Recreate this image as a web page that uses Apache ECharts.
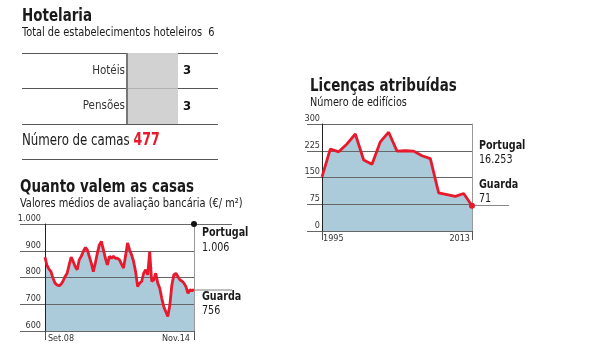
<!DOCTYPE html>
<html>
<head>
<meta charset="utf-8">
<script src="https://cdn.jsdelivr.net/npm/echarts@6/dist/echarts.min.js"></script>
<style>
    body { margin: 0; background: #fff; }
    #main { width: 610px; height: 352px; }
</style>
</head>
<body>
<div id="main"></div>
<script>
// hotelaria
var hotelCategorias = ['Hotéis', 'Pensões'];
var hotelValores = [3, 3];
var hotelTotal = 6;
var hotelCamas = 477;

// quanto valem as casas (€/m2), mensal Set.08 - Nov.14
var casasValores = [876, 845, 831, 822, 797, 779, 772, 769, 775, 787,
    804, 816, 847, 876, 860, 841, 829, 866, 879, 897,
    912, 904, 879, 854, 822, 854, 891, 922, 935, 904,
    872, 847, 879, 872, 879, 872, 872, 866,
    850, 835, 880, 929, 904, 885, 860, 822, 766, 779,
    785, 816, 829, 810, 897, 785, 791, 816, 779, 760,
    722, 691, 672, 654, 697, 772, 810, 816, 804, 791,
    787, 779, 766, 741, 754, 750, 756];
var casasEixoX = ['Set.08', 'Nov.14'];
var casasEixoY = ['600', '700', '800', '900', '1.000'];
var casasPortugal = 1000;

// licenças atribuídas
var licencasAnos = [1995, 1996, 1997, 1998, 1999, 2000, 2001, 2002, 2003, 2004,
    2005, 2006, 2007, 2008, 2009, 2010, 2011, 2012, 2013];
var licencasValores = [152, 230, 222, 244, 272, 199, 187, 250, 277, 224,
    225, 224, 211, 203, 107, 102, 97, 105, 71];
var licencasEixoY = ['0', '75', '150', '225', '300'];

var narrow = "'Liberation Sans Narrow','DejaVu Sans Condensed','Roboto Condensed',sans-serif";
var vermelho = '#e8192c';
var azul = '#abcada';
var escuro = '#1a1a1a';

var casasData = casasValores.map(function (v, i) { return [i, v]; });
var casasUltimo = casasValores.length - 1;
// x = anos desde o primeiro ano, para o eixo vertical ficar no zero
var licencasData = licencasValores.map(function (v, i) { return [licencasAnos[i] - licencasAnos[0], v]; });
var licUltimoX = licencasAnos[licencasAnos.length - 1] - licencasAnos[0];
var licUltimo = licencasValores[licencasValores.length - 1];

// texto com compressao horizontal (fonte condensada)
function txt(x, y, text, size, bold, sx, color) {
    return {
        type: 'text', x: x, y: y, scaleX: sx, silent: true,
        style: {
            text: text, fill: color || escuro, verticalAlign: 'middle',
            font: (bold ? 'bold ' : '') + size + 'px ' + narrow
        }
    };
}

function eixoY(grid, min, max, interval, labels, margem) {
    return {
        type: 'value', gridIndex: grid, min: min, max: max, interval: interval, z: 3,
        axisLine: { show: true, lineStyle: { color: '#222', width: 1 } },
        axisTick: { show: false },
        axisLabel: {
            fontSize: 9, color: '#333', fontFamily: narrow, margin: margem,
            verticalAlign: 'bottom', padding: [0, 0, 1, 0],
            formatter: function (v) { return labels[Math.round((v - min) / interval)]; }
        },
        splitLine: { show: true, lineStyle: { color: '#666', width: 1 } }
    };
}
function eixoDireita(grid, min, max) {
    return {
        type: 'value', gridIndex: grid, min: min, max: max, position: 'right',
        axisLine: { show: true, onZero: false, lineStyle: { color: '#999' } },
        axisTick: { show: false }, axisLabel: { show: false }, splitLine: { show: false }
    };
}
function eixoOculto(grid, min, max) {
    return { type: 'value', gridIndex: grid, min: min, max: max, show: false, splitLine: { show: false } };
}
function eixoX(grid, min, max, tickVals, labelVals, labelText, align, pad) {
    return {
        type: 'value', gridIndex: grid, min: min, max: max, position: 'bottom',
        axisLine: { show: false }, splitLine: { show: false },
        axisTick: { show: tickVals.length > 0, customValues: tickVals, length: 9, lineStyle: { color: '#555' } },
        axisLabel: {
            customValues: labelVals, align: align, margin: 3, padding: pad,
            fontSize: 9, color: '#333', fontFamily: narrow,
            formatter: function () { return labelText; }
        }
    };
}
function grade(left, top, width, height) {
    return { left: left, top: top, width: width, height: height, containLabel: false, outerBoundsMode: 'none' };
}

var chart = echarts.init(document.getElementById('main'));
var option = {
    animation: false,
    grid: [
        grade(22, 53, 196, 71),
        grade(20, 224, 174, 107),
        grade(194, 224, 38, 107),
        grade(307, 124, 165, 107),
        grade(472, 124, 37, 107)
    ],
    xAxis: [
        eixoOculto(0, -6.176, 5.353),
        eixoX(1, -12.4, casasUltimo, [0, casasUltimo], [0], casasEixoX[0], 'left', [0, 0, 0, 3]),
        eixoX(1, -12.4, casasUltimo, [], [casasUltimo], casasEixoX[1], 'right', [0, 4, 0, 0]),
        eixoOculto(2, 0, 1),
        eixoX(3, -1.8, licUltimoX, [0, licUltimoX], [0], String(licencasAnos[0]), 'left', [0, 0, 0, 1]),
        eixoX(3, -1.8, licUltimoX, [], [licUltimoX], String(licencasAnos[licencasAnos.length - 1]), 'right', [0, 2, 0, 0]),
        eixoOculto(4, 0, 1)
    ],
    yAxis: [
        {
            type: 'category', gridIndex: 0, data: hotelCategorias, inverse: true,
            axisLine: { show: false },
            axisTick: { show: false },
            axisLabel: { margin: -103, fontSize: 11.5, color: '#333', fontFamily: narrow },
            splitLine: { show: true, lineStyle: { color: '#555', width: 1 } }
        },
        eixoY(1, 600, 1000, 100, casasEixoY, -21),
        eixoDireita(1, 600, 1000),
        eixoOculto(2, 600, 1000),
        eixoY(3, 0, 300, 75, licencasEixoY, -13),
        eixoDireita(3, 0, 300),
        eixoOculto(4, 0, 300)
    ],
    series: [
        {
            type: 'bar', xAxisIndex: 0, yAxisIndex: 0, data: hotelValores,
            barWidth: '100%', itemStyle: { color: '#d2d2d2' },
            label: { show: true, position: 'right', distance: 5, fontSize: 13, fontWeight: 'bold', color: '#111', fontFamily: narrow },
            markLine: {
                symbol: 'none', silent: true, label: { show: false },
                lineStyle: { color: '#777', type: 'solid', width: 2 },
                data: [{ xAxis: 0 }]
            }
        },
        {
            type: 'line', xAxisIndex: 1, yAxisIndex: 1, data: casasData, symbol: 'none', z: 1,
            lineStyle: { width: 0 }, areaStyle: { color: azul, opacity: 1 }
        },
        {
            type: 'line', xAxisIndex: 1, yAxisIndex: 1, data: casasData, symbol: 'none', z: 5,
            lineStyle: { color: vermelho, width: 2.8 },
            markPoint: {
                symbol: 'circle', symbolSize: 6, silent: true, label: { show: false },
                itemStyle: { color: '#111' },
                data: [{ coord: [casasUltimo, casasPortugal] }]
            }
        },
        {
            type: 'line', xAxisIndex: 3, yAxisIndex: 3, data: [],
            markLine: {
                symbol: 'none', silent: true, label: { show: false },
                data: [
                    { yAxis: casasPortugal, lineStyle: { color: '#666', type: 'solid', width: 1 } },
                    { yAxis: casasValores[casasUltimo], lineStyle: { color: '#aaa', type: 'solid', width: 1.5 } }
                ]
            }
        },
        {
            type: 'line', xAxisIndex: 4, yAxisIndex: 4, data: licencasData, symbol: 'none', z: 1,
            lineStyle: { width: 0 }, areaStyle: { color: azul, opacity: 1 }
        },
        {
            type: 'line', xAxisIndex: 4, yAxisIndex: 4, data: licencasData, symbol: 'none', z: 5,
            lineStyle: { color: vermelho, width: 2.8 },
            markPoint: {
                symbol: 'circle', symbolSize: 6, silent: true, label: { show: false },
                itemStyle: { color: vermelho },
                data: [{ coord: [licUltimoX, licUltimo] }]
            }
        },
        {
            type: 'line', xAxisIndex: 6, yAxisIndex: 6, data: [],
            markLine: {
                symbol: 'none', silent: true, label: { show: false },
                data: [{ yAxis: licUltimo, lineStyle: { color: '#888', type: 'solid', width: 1 } }]
            }
        }
    ],
    graphic: [
        txt(22, 16, 'Hotelaria', 18, true, 0.83),
        txt(22, 33, 'Total de estabelecimentos hoteleiros  ' + hotelTotal, 12, false, 0.91),
        {
            type: 'text', x: 22, y: 141, scaleX: 0.82, silent: true,
            style: {
                text: '{a|Número de camas }{b|' + hotelCamas + '}', verticalAlign: 'middle',
                rich: {
                    a: { fontSize: 16, fontFamily: narrow, fill: escuro, color: escuro },
                    b: { fontSize: 17, fontWeight: 'bold', fontFamily: narrow, fill: vermelho, color: vermelho }
                }
            }
        },
        { type: 'line', silent: true, shape: { x1: 22, y1: 159.5, x2: 218, y2: 159.5 }, style: { stroke: '#555', lineWidth: 1 } },
        txt(20, 187, 'Quanto valem as casas', 18, true, 0.83),
        txt(20, 204, 'Valores médios de avaliação bancária (€/ m²)', 12, false, 0.91),
        txt(310, 86, 'Licenças atribuídas', 18, true, 0.83),
        txt(310, 103, 'Número de edifícios', 12, false, 0.9),
        txt(202, 233, 'Portugal', 13, true, 0.82),
        txt(202, 248, '1.006', 13, false, 0.82),
        txt(202, 297, 'Guarda', 13, true, 0.82),
        txt(202, 311, '756', 13, false, 0.82),
        txt(479, 146, 'Portugal', 13, true, 0.82),
        txt(479, 160, '16.253', 13, false, 0.82),
        txt(479, 185, 'Guarda', 13, true, 0.82),
        txt(479, 199, '71', 13, false, 0.82)
    ]
};
chart.setOption(option);
</script>
</body>
</html>
